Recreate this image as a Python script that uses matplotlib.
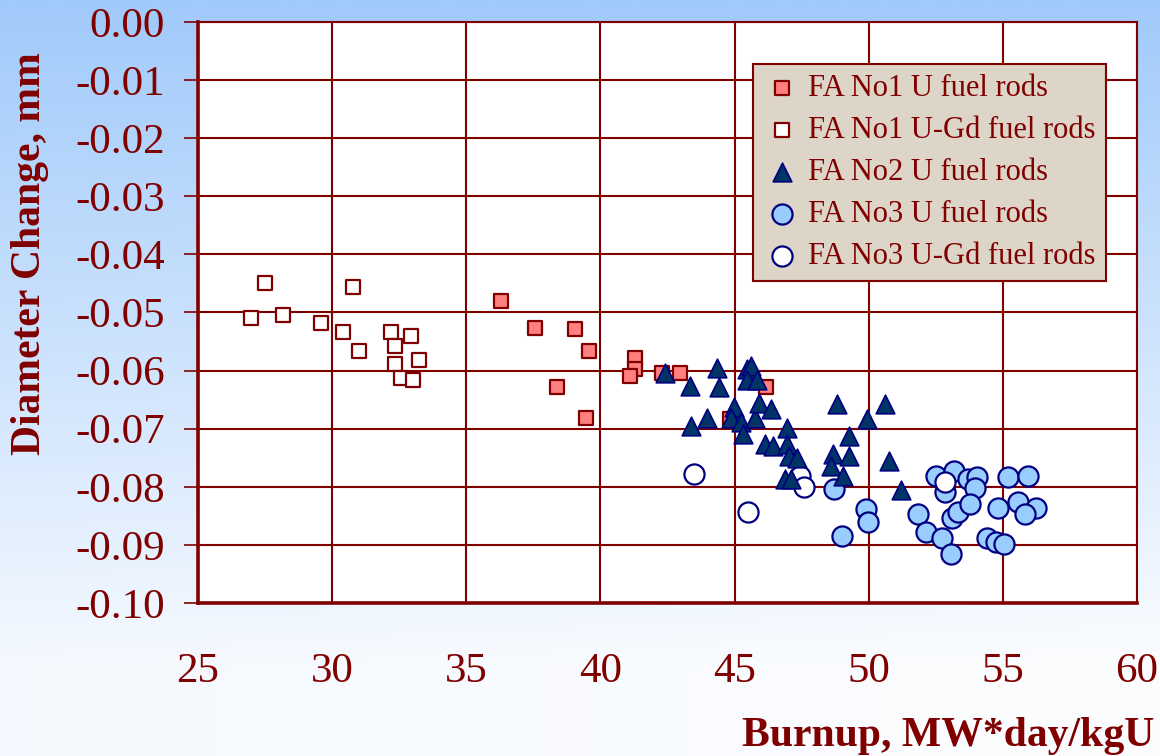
import matplotlib
matplotlib.use("Agg")
import matplotlib.pyplot as plt
import numpy as np

plt.rcParams['font.family'] = ['Liberation Serif', 'DejaVu Serif']

# FA No1 U fuel rods
fa1_u_x = [36.28, 37.55, 39.04, 39.56, 38.37, 39.48, 41.27, 41.27, 41.12, 42.31, 42.98, 46.18, 44.84]
fa1_u_y = [-0.0481, -0.0526, -0.0529, -0.0567, -0.0629, -0.0681, -0.0578, -0.0598, -0.0609,
           -0.0605, -0.0605, -0.0629, -0.0683]

# FA No1 U-Gd fuel rods
fa1_gd_x = [26.97, 27.49, 28.16, 29.58, 30.40, 30.77, 30.99, 32.19, 32.33, 32.33, 32.56, 32.93, 33.00, 33.23]
fa1_gd_y = [-0.0509, -0.0450, -0.0505, -0.0519, -0.0533, -0.0457, -0.0567, -0.0533, -0.0557,
            -0.0588, -0.0612, -0.0540, -0.0616, -0.0581]

# FA No2 U fuel rods
fa2_u_x = [42.42, 43.32, 44.36, 44.43, 43.39, 43.99, 45.48, 45.63, 45.48, 45.85, 44.96, 44.88,
           45.25, 45.33, 45.77, 45.92, 46.37, 46.97, 46.15, 46.44, 46.97, 47.04, 47.34, 46.89,
           47.11, 48.83, 50.61, 49.94, 49.27, 48.68, 49.27, 48.60, 49.05, 50.76, 51.21]
fa2_u_y = [-0.0605, -0.0626, -0.0595, -0.0629, -0.0695, -0.0681, -0.0597, -0.0593, -0.0616,
           -0.0616, -0.0662, -0.0681, -0.0688, -0.0709, -0.0681, -0.0655, -0.0667, -0.0698,
           -0.0726, -0.0729, -0.0726, -0.0747, -0.0750, -0.0786, -0.0786, -0.0657, -0.0657,
           -0.0684, -0.0712, -0.0743, -0.0747, -0.0764, -0.0781, -0.0755, -0.0805]

# FA No3 U fuel rods
fa3_u_x = [48.72, 49.91, 49.98, 49.01, 52.51, 53.18, 52.85, 53.70, 54.04, 53.97, 55.19, 55.94,
           51.84, 52.14, 52.74, 53.07, 53.11, 53.33, 53.78, 54.82, 55.57, 56.24, 55.83, 54.41,
           54.75, 55.04]
fa3_u_y = [-0.0803, -0.0838, -0.0860, -0.0884, -0.0781, -0.0772, -0.0809, -0.0786, -0.0784,
           -0.0802, -0.0784, -0.0781, -0.0847, -0.0878, -0.0888, -0.0916, -0.0853, -0.0843,
           -0.0829, -0.0836, -0.0826, -0.0836, -0.0847, -0.0888, -0.0895, -0.0898]

# FA No3 U-Gd fuel rods
fa3_gd_x = [43.50, 45.51, 47.45, 47.60, 52.85]
fa3_gd_y = [-0.0778, -0.0843, -0.0781, -0.0800, -0.0791]

x_ticks = [25, 30, 35, 40, 45, 50, 55, 60]
y_ticks = [0.00, -0.01, -0.02, -0.03, -0.04, -0.05, -0.06, -0.07, -0.08, -0.09, -0.10]

dark = '#800000'
navy = '#000080'

fig = plt.figure(figsize=(11.6, 7.56), dpi=100)

# gradient background
bg = fig.add_axes([0, 0, 1, 1], zorder=-10)
rows = np.linspace(0, 1, 256)[:, None]
cols = np.linspace(0, 1, 256)[None, :]
t = np.clip(rows / 0.88, 0, 1) * (1 - 0.08 * (1 - cols))
top = np.array([160, 202, 250]) / 255.0
bot = np.array([252, 253, 255]) / 255.0
img = top[None, None, :] * (1 - t[..., None]) + bot[None, None, :] * t[..., None]
bg.imshow(img, aspect='auto', extent=[0, 1, 0, 1], origin='upper')
bg.axis('off')

ax = fig.add_axes([0.1707, 0.2024, 0.8095, 0.7686])
ax.set_facecolor('white')

ax.scatter(fa1_u_x, fa1_u_y, marker='s', s=115, facecolor='#ff8080', edgecolor=dark,
           linewidth=1.6, zorder=3, label='FA No1 U fuel rods')
ax.scatter(fa1_gd_x, fa1_gd_y, marker='s', s=115, facecolor='white', edgecolor=dark,
           linewidth=1.6, zorder=3, label='FA No1 U-Gd fuel rods')
ax.scatter(fa2_u_x, fa2_u_y, marker='^', s=180, facecolor='#003366', edgecolor=navy,
           linewidth=1.2, zorder=4, label='FA No2 U fuel rods')
ax.scatter(fa3_u_x, fa3_u_y, marker='o', s=210, facecolor='#99ccff', edgecolor=navy,
           linewidth=1.6, zorder=3, label='FA No3 U fuel rods')
ax.scatter(fa3_gd_x, fa3_gd_y, marker='o', s=210, facecolor='white', edgecolor=navy,
           linewidth=1.6, zorder=3, label='FA No3 U-Gd fuel rods')

ax.set_xlim(25, 60)
ax.set_ylim(-0.10, 0.0)
ax.set_xticks(x_ticks)
ax.set_yticks(y_ticks)
ax.set_yticklabels(['%.2f' % v for v in y_ticks])
ax.grid(True, color=dark, linewidth=1.5, zorder=1)
ax.set_axisbelow(True)

ax.tick_params(axis='y', colors=dark, labelsize=31, length=10, width=1.2, pad=14, direction='out')
ax.tick_params(axis='x', colors=dark, labelsize=31, length=0, pad=36)
for s in ['left', 'bottom']:
    ax.spines[s].set_linewidth(2.6)
    ax.spines[s].set_color(dark)
for s in ['top', 'right']:
    ax.spines[s].set_linewidth(1.5)
    ax.spines[s].set_color(dark)

fig.text(0.995, 0.013, 'Burnup, MW*day/kgU', ha='right', va='baseline', fontsize=30,
         fontweight='bold', color=dark)
fig.text(0.026, 0.665, 'Diameter Change, mm', ha='center', va='center', rotation=90,
         fontsize=30, fontweight='bold', color=dark)

leg = ax.legend(loc='upper left', bbox_to_anchor=(0.591, 0.928), fontsize=22,
                frameon=True, fancybox=False, facecolor='#ddd5c7', edgecolor=dark,
                framealpha=1, labelspacing=0.42, handletextpad=0.25, borderpad=0.35,
                handlelength=1.2, borderaxespad=0)
leg.get_frame().set_linewidth(1.5)
for txt in leg.get_texts():
    txt.set_color(dark)

fig.savefig('out.png', dpi=100)
